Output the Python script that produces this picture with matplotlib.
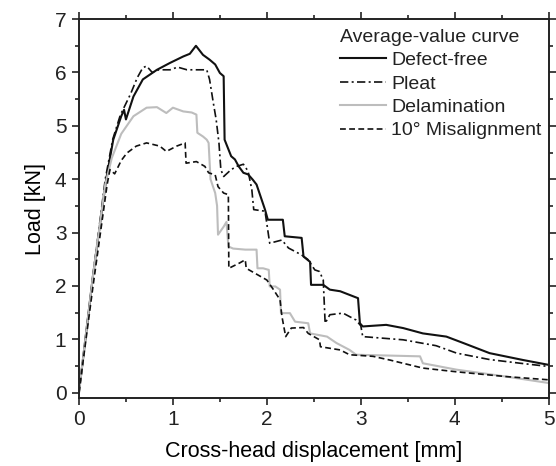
import matplotlib
matplotlib.use("Agg")
import matplotlib.pyplot as plt
from matplotlib.ticker import MultipleLocator

plt.rcParams.update({
    "font.family": ["Liberation Sans", "DejaVu Sans"],
    "font.size": 15,
})

# Average-value load/displacement curves
defect_x = [0, 0.15, 0.29, 0.365, 0.45, 0.48, 0.50, 0.58, 0.68, 0.83, 0.97, 1.11, 1.18,
            1.245, 1.32, 1.39, 1.45, 1.50, 1.54, 1.55, 1.62, 1.66, 1.70, 1.75, 1.80,
            1.85, 1.89, 1.98, 2.01, 2.17, 2.19, 2.37, 2.39, 2.46, 2.47, 2.60, 2.67,
            2.78, 2.97, 2.99, 3.02, 3.27, 3.45, 3.66, 3.91, 4.09, 4.37, 4.73, 5.0]
defect_y = [0, 2.2, 4.0, 4.74, 5.18, 5.30, 5.12, 5.55, 5.87, 6.05, 6.18, 6.30, 6.35,
            6.50, 6.33, 6.24, 6.15, 5.99, 5.93, 4.74, 4.43, 4.37, 4.24, 4.12, 4.09,
            3.99, 3.90, 3.43, 3.24, 3.24, 2.93, 2.90, 2.55, 2.45, 2.02, 2.02, 1.93,
            1.90, 1.77, 1.30, 1.24, 1.27, 1.21, 1.11, 1.05, 0.93, 0.74, 0.61, 0.52]

pleat_x = [0, 0.15, 0.28, 0.36, 0.44, 0.55, 0.62, 0.68, 0.72, 0.78, 0.85, 0.97, 1.05,
           1.15, 1.23, 1.36, 1.39, 1.43, 1.46, 1.49, 1.51, 1.54, 1.62, 1.68, 1.75,
           1.80, 1.84, 1.86, 1.98, 2.03, 2.16, 2.23, 2.37, 2.44, 2.51, 2.56, 2.60,
           2.62, 2.67, 2.81, 2.95, 3.00, 3.02, 3.45, 3.80, 4.02, 4.37, 4.70, 5.0]
pleat_y = [0, 2.2, 4.0, 4.75, 5.2, 5.6, 5.9, 6.09, 6.12, 6.0, 6.05, 6.05, 6.1,
           6.05, 6.05, 6.05, 5.87, 5.43, 5.12, 4.68, 4.18, 4.05, 4.18, 4.24, 4.28,
           4.15, 3.8, 3.43, 3.40, 2.80, 2.86, 2.71, 2.58, 2.49, 2.30, 2.27, 2.11,
           1.30, 1.46, 1.49, 1.36, 1.25, 1.05, 0.99, 0.88, 0.74, 0.62, 0.55, 0.49]

delam_x = [0, 0.15, 0.28, 0.35, 0.45, 0.58, 0.72, 0.83, 0.93, 1.0, 1.11, 1.20, 1.25,
           1.26, 1.32, 1.36, 1.38, 1.40, 1.45, 1.47, 1.48, 1.54, 1.57, 1.59, 1.64,
           1.77, 1.89, 1.90, 1.96, 2.02, 2.03, 2.09, 2.14, 2.15, 2.245, 2.30, 2.44,
           2.46, 2.64, 2.74, 2.88, 2.95, 3.63, 3.66, 4.02, 4.55, 5.0]
delam_y = [0, 2.2, 3.9, 4.4, 4.85, 5.18, 5.34, 5.35, 5.24, 5.34, 5.27, 5.25, 5.21,
           4.87, 4.80, 4.74, 4.68, 4.0, 3.74, 3.5, 2.96, 3.11, 3.2, 2.74, 2.70,
           2.68, 2.68, 2.33, 2.33, 2.30, 1.99, 1.99, 1.93, 1.49, 1.49, 1.33, 1.30,
           1.11, 1.05, 0.93, 0.80, 0.71, 0.68, 0.55, 0.43, 0.30, 0.18]

mis_x = [0, 0.15, 0.30, 0.33, 0.38, 0.45, 0.51, 0.61, 0.72, 0.86, 0.93, 1.04, 1.13,
         1.14, 1.25, 1.34, 1.38, 1.45, 1.48, 1.54, 1.59, 1.595, 1.71, 1.77, 1.78,
         1.87, 2.0, 2.07, 2.14, 2.16, 2.2, 2.26, 2.39, 2.44, 2.56, 2.57, 2.78, 2.88,
         3.13, 3.31, 3.66, 4.02, 4.55, 5.0]
mis_y = [0, 2.0, 3.9, 4.18, 4.1, 4.35, 4.49, 4.62, 4.68, 4.62, 4.52, 4.62, 4.68,
         4.30, 4.33, 4.24, 4.12, 4.08, 3.86, 3.74, 3.71, 2.33, 2.43, 2.49, 2.33,
         2.24, 2.11, 1.93, 1.74, 1.43, 1.05, 1.21, 1.22, 1.11, 0.99, 0.86, 0.80, 0.71,
         0.68, 0.61, 0.46, 0.39, 0.30, 0.24]

labels = ["Defect-free", "Pleat", "Delamination", "10° Misalignment"]

fig = plt.figure(figsize=(5.56, 4.66), dpi=100)
ax = fig.add_axes([0.142, 0.146, 0.845, 0.813])

ax.plot(defect_x, defect_y, color="#111111", lw=1.5, ls="-", label=labels[0])
ax.plot(pleat_x, pleat_y, color="#111111", lw=1.2, ls=(0, (5, 2, 1.2, 2)), label=labels[1])
ax.plot(delam_x, delam_y, color="#bdbdbd", lw=1.5, ls="-", label=labels[2])
ax.plot(mis_x, mis_y, color="#111111", lw=1.2, ls=(0, (3.5, 2)), label=labels[3])

ax.set_xlim(0, 5)
ax.set_ylim(-0.1, 7)
ax.xaxis.set_major_locator(MultipleLocator(1))
ax.xaxis.set_minor_locator(MultipleLocator(0.5))
ax.yaxis.set_major_locator(MultipleLocator(1))
ax.yaxis.set_minor_locator(MultipleLocator(0.5))
ax.tick_params(which="both", direction="out", top=True, right=True,
               labeltop=False, labelright=False, width=1.2, colors="#222222",
               labelsize=15)
ax.tick_params(which="major", length=5, pad=4)
ax.tick_params(which="minor", length=3)
for sp in ax.spines.values():
    sp.set_linewidth(1.4)
    sp.set_color("#222222")

ax.set_xlabel("Cross-head displacement [mm]", fontsize=15.5, labelpad=8)
ax.set_ylabel("Load [kN]", fontsize=15.5, labelpad=6)

leg = ax.legend(title="Average-value curve", loc="upper left", frameon=False,
                bbox_to_anchor=(0.547, 0.985), handlelength=2.4, handletextpad=0.25,
                labelspacing=0.3, borderaxespad=0.0, borderpad=0.2,
                alignment="left", fontsize=14, title_fontsize=14)
leg.get_title().set_color("#222222")
for t in leg.get_texts():
    t.set_color("#222222")

fig.savefig("out.png", dpi=100, facecolor="white")
